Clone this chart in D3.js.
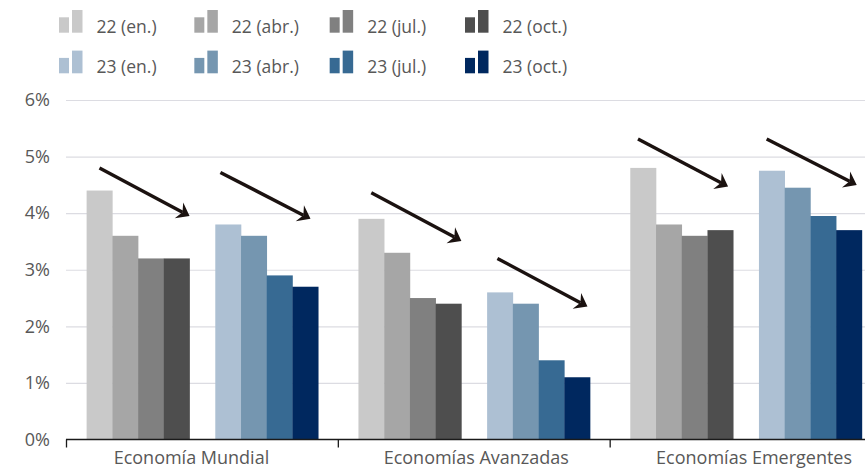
<!DOCTYPE html>
<html>
<head>
<meta charset="utf-8">
<script src="https://cdn.jsdelivr.net/npm/d3@7"></script>
<style>
  html, body { margin: 0; padding: 0; background: #ffffff; }
  svg { display: block; font-family: "Open Sans", "Noto Sans", sans-serif; }
</style>
</head>
<body>
<svg id="chart" width="865" height="469"></svg>
<script>
// Growth forecasts (%) by region, one array per forecast vintage
const categories = ["Economía Mundial", "Economías Avanzadas", "Economías Emergentes"];
const seriesNames = ["22 (en.)", "22 (abr.)", "22 (jul.)", "22 (oct.)",
                     "23 (en.)", "23 (abr.)", "23 (jul.)", "23 (oct.)"];
const s22en  = [4.4, 3.9, 4.8];
const s22abr = [3.6, 3.3, 3.8];
const s22jul = [3.2, 2.5, 3.6];
const s22oct = [3.2, 2.4, 3.7];
const s23en  = [3.8, 2.6, 4.75];
const s23abr = [3.6, 2.4, 4.45];
const s23jul = [2.9, 1.4, 3.95];
const s23oct = [2.7, 1.1, 3.7];
const seriesColors = ["#c9c9c9", "#a6a6a6", "#808080", "#4e4e4e",
                      "#adc0d3", "#7596b0", "#376a93", "#00285f"];
const yTicks = [0, 1, 2, 3, 4, 5, 6];

// Downward-trend arrows: category index, bar-slot span and value span
const arrowCategory  = [0, 0, 1, 1, 2, 2];
const arrowFromSlot  = [0.5, 5.2, 0.5, 5.4, 0.3, 5.3];
const arrowToSlot    = [4.0, 8.7, 4.0, 8.9, 3.8, 8.8];
const arrowFromValue = [4.8, 4.72, 4.36, 3.2, 5.31, 5.31];
const arrowToValue   = [3.95, 3.9, 3.51, 2.35, 4.47, 4.5];

const seriesValues = [s22en, s22abr, s22jul, s22oct, s23en, s23abr, s23jul, s23oct];

const svg = d3.select("#chart");
const W = 865;
const textColor = "#585858";

// Scales
const y = d3.scaleLinear().domain([0, 6]).range([439.5, 100]);
const x0 = d3.scaleBand().domain(categories).range([66.5, 882])
  .paddingInner(0.148).paddingOuter(0.074);
// nine slots per category: four 2022 bars, an empty slot, four 2023 bars
const slotIndex = i => (i < 4 ? i : i + 1);
const x1 = d3.scaleBand().domain(d3.range(9)).range([0, x0.bandwidth()]).padding(0);

// Gridlines
const grid = svg.append("g")
  .attr("transform", `translate(66,0)`)
  .call(d3.axisLeft(y).tickValues(yTicks.slice(1)).tickSize(-(W - 66)).tickFormat(""));
grid.select(".domain").remove();
grid.selectAll("line").attr("stroke", "#dcdce2").attr("stroke-width", 1.2);

// Y labels
const yAxis = svg.append("g")
  .attr("transform", `translate(50,0)`)
  .call(d3.axisLeft(y).tickValues(yTicks).tickSize(0).tickPadding(0)
    .tickFormat(d => d + "%"));
yAxis.select(".domain").remove();
yAxis.selectAll("text")
  .attr("fill", textColor)
  .style("font-size", "18px")
  .style("font-family", "'Open Sans', sans-serif");

// Bars
const rows = [];
seriesValues.forEach((vals, si) => {
  vals.forEach((v, ci) => rows.push({ cat: categories[ci], series: si, value: v }));
});
svg.append("g").selectAll("rect")
  .data(rows)
  .join("rect")
  .attr("x", d => x0(d.cat) + x1(slotIndex(d.series)))
  .attr("y", d => y(d.value))
  .attr("width", x1.bandwidth() + 0.3)
  .attr("height", d => y(0) - y(d.value))
  .attr("fill", d => seriesColors[d.series]);

// X axis: baseline, category boundary ticks and labels
const xAxis = svg.append("g")
  .attr("transform", `translate(0,${y(0)})`)
  .call(d3.axisBottom(x0).tickSize(0).tickPadding(12));
xAxis.select(".domain").remove();
// the category labels sit slightly off their band centres
const labelNudge = [-11, 2, 8];
xAxis.selectAll("text")
  .attr("dx", (d, i) => labelNudge[i])
  .attr("fill", textColor)
  .style("font-size", "18px")
  .style("font-family", "'Open Sans', sans-serif");

svg.append("line")
  .attr("x1", 66).attr("x2", W)
  .attr("y1", y(0)).attr("y2", y(0))
  .attr("stroke", "#1a1a1a").attr("stroke-width", 1.3);
const boundaries = d3.range(categories.length + 1).map(i => x0.range()[0] + i * x0.step());
svg.append("g").selectAll("line")
  .data(boundaries)
  .join("line")
  .attr("x1", d => d).attr("x2", d => d)
  .attr("y1", y(0)).attr("y2", y(0) + 8)
  .attr("stroke", "#1a1a1a").attr("stroke-width", 1.3);

// Arrows
const arrowColor = "#1b1210";
const arrowG = svg.append("g");
arrowCategory.forEach((c, i) => {
  const bx = x0(categories[c]);
  const sx = bx + arrowFromSlot[i] * x1.step();
  const ex = bx + arrowToSlot[i] * x1.step();
  const sy = y(arrowFromValue[i]);
  const ey = y(arrowToValue[i]);
  const len = Math.hypot(ex - sx, ey - sy);
  const ux = (ex - sx) / len, uy = (ey - sy) / len;
  const px = -uy, py = ux;
  const headLen = 12, headHalf = 9, notch = 8;
  arrowG.append("line")
    .attr("x1", sx).attr("y1", sy)
    .attr("x2", ex - ux * notch).attr("y2", ey - uy * notch)
    .attr("stroke", arrowColor).attr("stroke-width", 3.4);
  const pts = [
    [ex, ey],
    [ex - ux * headLen + px * headHalf, ey - uy * headLen + py * headHalf],
    [ex - ux * notch, ey - uy * notch],
    [ex - ux * headLen - px * headHalf, ey - uy * headLen - py * headHalf]
  ];
  arrowG.append("path")
    .attr("d", d3.line()(pts) + "Z")
    .attr("fill", arrowColor);
});

// Legend: two rows of four entries
const legendX = d3.scaleLinear().domain([0, 3]).range([59, 465]);
const legendRowY = [32.7, 73.3];
const legend = svg.append("g").selectAll("g")
  .data(seriesNames)
  .join("g")
  .attr("transform", (d, i) => `translate(${legendX(i % 4)},${legendRowY[Math.floor(i / 4)]})`);
legend.append("rect")
  .attr("x", 0).attr("y", -15.4).attr("width", 10).attr("height", 15.4)
  .attr("fill", (d, i) => seriesColors[i]);
legend.append("rect")
  .attr("x", 13).attr("y", -22.7).attr("width", 10.5).attr("height", 22.7)
  .attr("fill", (d, i) => seriesColors[i]);
legend.append("text")
  .attr("x", 37.5).attr("y", 0)
  .attr("fill", textColor)
  .style("font-size", "17.5px")
  .text(d => d);
</script>
</body>
</html>
